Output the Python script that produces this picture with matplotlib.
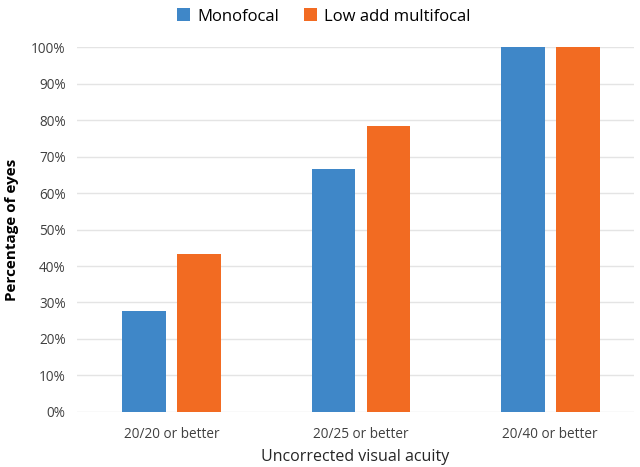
import numpy as np
import matplotlib.pyplot as plt
from matplotlib.ticker import PercentFormatter

categories = ["20/20 or better", "20/25 or better", "20/40 or better"]
monofocal = [27.6, 66.7, 100.0]
low_add = [43.3, 78.3, 100.0]

plt.rcParams['font.family'] = ['Open Sans', 'DejaVu Sans']

fig = plt.figure(figsize=(6.4, 4.67), dpi=100)
ax = fig.add_axes([0.12, 0.118, 0.87, 0.781])

x = np.arange(len(categories))
w = 0.23
ax.bar(x - w / 2 - 0.03, monofocal, w, color="#3F87C8", label="Monofocal", zorder=3)
ax.bar(x + w / 2 + 0.03, low_add, w, color="#F26B22", label="Low add multifocal", zorder=3)

ax.set_ylim(0, 100)
ax.set_xlim(-0.5, 2.44)
ax.set_yticks(np.arange(0, 101, 10))
ax.yaxis.set_major_formatter(PercentFormatter(decimals=0))
ax.set_xticks(x)
ax.set_xticklabels(categories)
ax.tick_params(length=0, labelsize=9.8, colors="#404040")
ax.tick_params(axis="x", pad=11)
ax.tick_params(axis="y", pad=8)
ax.grid(axis="y", color="#E4E4E4", linewidth=1, zorder=0)
for s in ax.spines.values():
    s.set_visible(False)

ax.set_ylabel("Percentage of eyes", fontsize=11, fontweight="bold", labelpad=9)
ax.set_xlabel("Uncorrected visual acuity", fontsize=11.5, color="#262626", labelpad=5)

fig.legend(loc="upper center", bbox_to_anchor=(0.506, 1.014), ncol=2, frameon=False,
           fontsize=12, handlelength=0.8, handleheight=0.8, columnspacing=1.5,
           handletextpad=0.4)

fig.savefig("out.png", dpi=100)
